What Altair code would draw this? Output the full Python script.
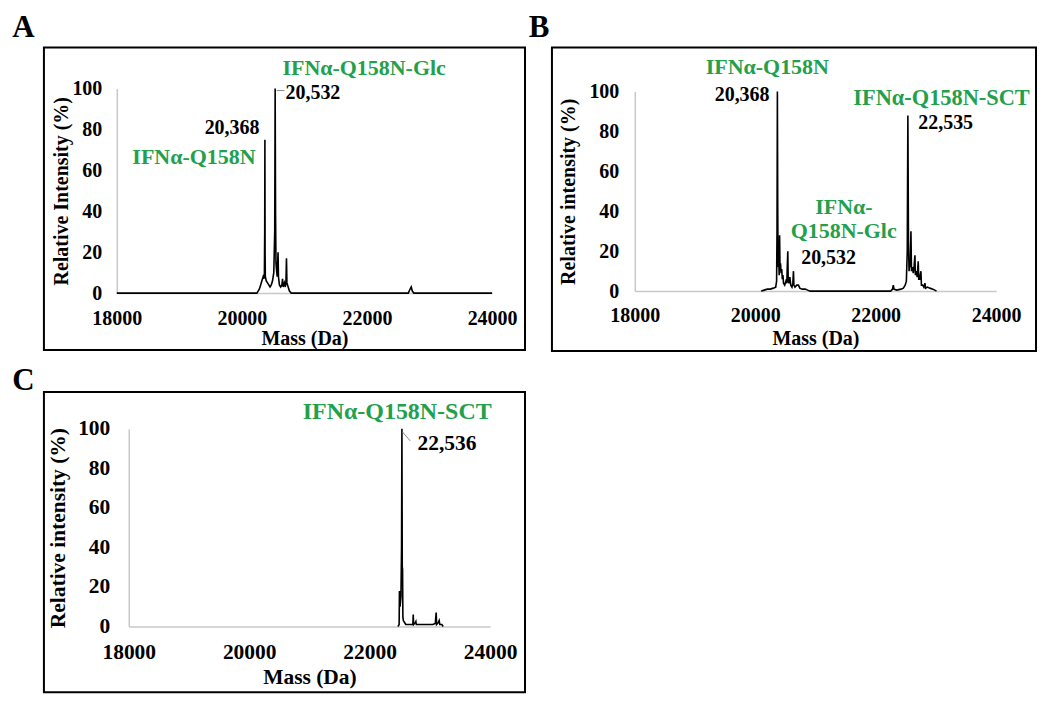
import altair as alt
import pandas as pd

FONT = "Liberation Serif"
GREEN = "#22a04b"

# ---------------- data ----------------
a_mass = [18000, 20240, 20260, 20280, 20300, 20320, 20340, 20350, 20360, 20365, 20368, 20371, 20375,
          20390, 20410, 20430, 20450, 20470, 20490, 20510, 20525, 20532, 20538, 20545, 20552, 20565,
          20578, 20585, 20600, 20620, 20640, 20650, 20660, 20680, 20695, 20705, 20713, 20720, 20740,
          20760, 20790, 22660, 22690, 22707, 22725, 22750, 24000]
a_int = [0, 0, 1, 2, 4, 6, 8, 7, 9, 30, 75, 20, 8,
         6, 5, 4, 3, 4, 6, 10, 30, 100, 40, 15, 12, 8,
         20, 8, 4, 3, 4, 7, 3, 5, 3, 6, 17, 5, 3,
         1, 0, 0, 2, 3, 1, 0, 0]

b_mass = [20100, 20150, 20200, 20250, 20300, 20340, 20355, 20362, 20368, 20374, 20380, 20390, 20398,
          20405, 20412, 20420, 20430, 20440, 20450, 20460, 20470, 20490, 20510, 20525, 20532, 20541,
          20548, 20560, 20575, 20590, 20610, 20625, 20635, 20642, 20660, 20690, 20718, 20740, 20780,
          20830, 20870, 20912, 22250, 22280, 22293, 22305, 22350, 22420, 22460, 22490, 22510, 22525,
          22535, 22545, 22555, 22565, 22575, 22586, 22595, 22610, 22625, 22640, 22652, 22660, 22675,
          22690, 22707, 22715, 22730, 22752, 22760, 22780, 22800, 22818, 22830, 22860, 22900, 22950,
          23011]
b_int = [0, 0.5, 1, 1, 1.5, 2, 5, 30, 100, 40, 12, 18, 8,
         28, 10, 14, 9, 11, 6, 8, 4, 3, 5, 4, 12, 20,
         5, 4, 7, 3, 2, 4, 10, 3, 2, 3, 3, 1.5, 1,
         1, 0.5, 0, 0, 1, 3, 1, 0.5, 1, 1.5, 3, 5, 20,
         88, 25, 10, 14, 12, 30, 10, 12, 9, 13, 18, 8, 10,
         7, 15, 6, 6, 10, 3, 3, 2, 4, 1.5, 2, 1.5, 1,
         0]

c_mass = [22470, 22490, 22495, 22505, 22520, 22530, 22536, 22542, 22547, 22552, 22560, 22580, 22600,
          22700, 22718, 22724, 22730, 22760, 22768, 22775, 22850, 22950, 23050, 23090, 23105, 23112,
          23140, 23155, 23165, 23200, 23221]
c_int = [0, 1, 18, 10, 15, 40, 100, 30, 29, 5, 3, 2, 1,
         1, 1, 6, 1, 2, 2.5, 1, 1, 1, 1, 1.5, 7, 1,
         2, 3, 1, 1, 0]

# annotation texts
a_texts = ["IFNα-Q158N-Glc", "20,532", "20,368", "IFNα-Q158N"]
b_texts = ["IFNα-Q158N", "20,368", "IFNα-Q158N-SCT", "22,535", "IFNα-", "Q158N-Glc", "20,532"]
c_texts = ["IFNα-Q158N-SCT", "22,536"]

x_ticks = [18000, 20000, 22000, 24000]
y_ticks = [0, 20, 40, 60, 80, 100]


def make_panel(mass, inten, width, height, y_title, fs, ylp, ytp, xlp, xtp,
               box, letter, lpos, labels, leaders, x_range=None, y_range=None, y_off=0,
               line_w=1.6):
    xs_kw = dict(domain=[18000, 24000], nice=False, zero=False)
    if x_range is not None:
        xs_kw["range"] = x_range
    ys_kw = dict(domain=[0, 100], nice=False)
    if y_range is not None:
        ys_kw["range"] = y_range
    xs = alt.Scale(**xs_kw)
    ys = alt.Scale(**ys_kw)
    common = dict(grid=False, ticks=False, labelFont=FONT, labelFontSize=fs, labelFontWeight="bold",
                  labelColor="black", titleFont=FONT, titleFontSize=fs, titleFontWeight="bold",
                  titleColor="black", domainColor="#c8c8c8", domainWidth=1.5, labelOverlap=False)
    xaxis = alt.Axis(values=x_ticks, format="d", title="Mass (Da)", labelFlush=False,
                     labelPadding=xlp, titlePadding=xtp, **common)
    yaxis = alt.Axis(values=y_ticks, title=y_title, labelPadding=ylp, titlePadding=ytp,
                     offset=y_off, **common)

    def X(f):
        return alt.X(f, type="quantitative", scale=xs, axis=xaxis)

    def Y(f):
        return alt.Y(f, type="quantitative", scale=ys, axis=yaxis)

    df = pd.DataFrame({"mass": mass, "inten": inten})
    layers = [alt.Chart(df).mark_line(color="black", strokeWidth=line_w).encode(
        x=X("mass"), y=Y("inten"), order=alt.Order("mass:Q"))]

    for (text, m, v, align, color, size) in labels:
        ldf = pd.DataFrame({"mass": [m], "inten": [v], "txt": [text]})
        layers.append(alt.Chart(ldf).mark_text(font=FONT, fontWeight="bold", fontSize=size,
                                               align=align, baseline="middle", color=color).encode(
            x=X("mass"), y=Y("inten"), text="txt:N"))

    for (m1, v1, m2, v2) in leaders:
        rdf = pd.DataFrame({"mass": [m1], "inten": [v1], "m2": [m2], "v2": [v2]})
        layers.append(alt.Chart(rdf).mark_rule(color="#888888", strokeWidth=1).encode(
            x=X("mass"), y=Y("inten"), x2="m2", y2="v2"))

    one = pd.DataFrame({"k": [0]})
    bx1, bx2, by1, by2 = box
    layers.append(alt.Chart(one).mark_rect(fillOpacity=0, stroke="black", strokeWidth=2).encode(
        x=alt.value(bx1), x2=alt.value(bx2), y=alt.value(by1), y2=alt.value(by2)))
    layers.append(alt.Chart(one).mark_text(text=letter, font=FONT, fontWeight="bold", fontSize=31,
                                           align="center", baseline="alphabetic", color="black").encode(
        x=alt.value(lpos[0]), y=alt.value(lpos[1])))

    return alt.layer(*layers).properties(width=width, height=height)


panel_a = make_panel(
    a_mass, a_int, 376, 205, "Relative Intensity (%)", 20, 15, 0, 15, 0,
    box=(-73, 409, -41, 262), letter="A", lpos=(-93.5, -52),
    labels=[(a_texts[0], 20649, 110.2, "left", GREEN, 22),
            (a_texts[1], 20697, 97.6, "left", "black", 20),
            (a_texts[2], 20282, 80.5, "right", "black", 20),
            (a_texts[3], 20218, 66.3, "right", GREEN, 22)],
    leaders=[(20555, 99, 20680, 99)])

panel_b = make_panel(
    b_mass, b_int, 362, 203, "Relative intensity (%)", 20, 16, 10, 14, 3,
    box=(-83, 402, -41, 263), letter="B", lpos=(-96, -52),
    labels=[(b_texts[0], 20201, 112.5, "center", GREEN, 22),
            (b_texts[1], 20238, 98.4, "right", "black", 20),
            (b_texts[2], 21630, 96.5, "left", GREEN, 22.4),
            (b_texts[3], 22707, 84.2, "left", "black", 20),
            (b_texts[4], 21473, 42.2, "center", GREEN, 22),
            (b_texts[5], 21469, 30, "center", GREEN, 22),
            (b_texts[6], 20763, 16.4, "left", "black", 20)],
    leaders=[],
    y_range=[203, 3])

panel_c = make_panel(
    c_mass, c_int, 374, 198, "Relative intensity (%)", 21.5, 19, 8, 15, 4,
    box=(-73, 409, -37, 264), letter="C", lpos=(-93.5, -39),
    labels=[(c_texts[0], 20889, 108.7, "left", GREEN, 24),
            (c_texts[1], 22795, 92.4, "left", "black", 21.5)],
    leaders=[(22545, 98.5, 22674, 93.9)],
    x_range=[12, 374], y_off=-12)

chart = alt.concat(panel_a, panel_b, panel_c, columns=2,
                   spacing={"row": 136, "column": 143}, bounds="flush").properties(
    padding={"left": 4, "top": 3, "right": 5, "bottom": 5}
).configure_view(strokeWidth=0)

chart.save("out.html", embed_options={"renderer": "svg", "actions": False})
